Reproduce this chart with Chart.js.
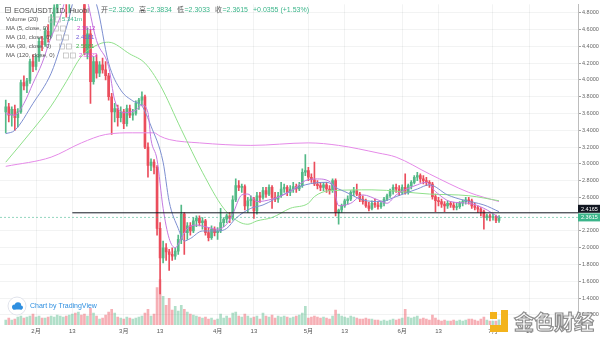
<!DOCTYPE html>
<html>
<head>
<meta charset="utf-8">
<script src="https://cdn.jsdelivr.net/npm/chart.js@4.4.1/dist/chart.umd.min.js"></script>
<style>
  html, body { margin: 0; padding: 0; background: #fff; }
  canvas { display: block; }
</style>
</head>
<body>
<canvas id="kline" width="600" height="338"></canvas>
<script>
// EOS/USDT daily, day 0 = Feb 1
var firstDay = -10;

var open = [
  3.62,3.68,3.58,3.65,3.55,3.62,3.97,3.93,3.99,4.22,
  4.16,4.27,4.46,4.42,4.58,4.52,4.72,4.86,5.00,5.10,
  5.25,5.10,5.35,5.50,5.30,5.40,4.95,4.32,4.55,3.98,
  4.22,4.08,4.18,4.12,4.05,3.80,3.62,3.66,3.55,3.62,
  3.48,3.66,3.58,3.60,3.72,3.76,3.80,3.20,2.98,3.02,
  2.96,2.23,1.88,2.00,1.95,1.92,1.90,1.96,2.10,2.40,
  2.18,2.26,2.20,2.32,2.35,2.30,2.32,2.18,2.12,2.22,
  2.18,2.20,2.30,2.34,2.38,2.35,2.57,2.74,2.72,2.73,
  2.50,2.56,2.58,2.44,2.62,2.60,2.68,2.64,2.72,2.60,
  2.58,2.62,2.70,2.72,2.66,2.70,2.73,2.70,2.74,2.90,
  2.92,2.84,2.81,2.76,2.74,2.72,2.75,2.70,2.68,2.80,
  2.42,2.45,2.50,2.56,2.58,2.66,2.68,2.64,2.58,2.55,
  2.50,2.47,2.53,2.51,2.49,2.53,2.58,2.62,2.67,2.72,
  2.70,2.66,2.72,2.66,2.74,2.78,2.84,2.86,2.82,2.80,
  2.78,2.76,2.61,2.56,2.55,2.52,2.50,2.53,2.51,2.48,
  2.49,2.53,2.55,2.57,2.56,2.50,2.48,2.46,2.43,2.36,
  2.38,2.36,2.37,2.326
];
var high = [
  3.76,3.72,3.68,3.70,3.66,4.00,4.05,4.02,4.25,4.30,
  4.30,4.50,4.52,4.62,4.66,4.78,4.90,5.10,5.15,5.30,
  5.35,5.40,5.60,5.55,5.50,5.45,5.05,4.62,4.60,4.28,
  4.30,4.22,4.26,4.22,4.08,3.84,3.72,3.70,3.68,3.65,
  3.70,3.70,3.65,3.75,3.78,3.86,3.82,3.25,3.06,3.05,
  2.98,2.30,2.08,2.05,1.98,2.00,2.00,2.15,2.51,2.42,
  2.30,2.30,2.36,2.38,2.38,2.36,2.34,2.24,2.26,2.25,
  2.24,2.47,2.36,2.40,2.42,2.62,2.82,2.80,2.76,2.75,
  2.60,2.62,2.60,2.66,2.66,2.72,2.72,2.75,2.74,2.66,
  2.66,2.78,2.76,2.74,2.74,2.78,2.76,2.78,2.94,3.11,
  2.96,2.88,3.02,2.80,2.78,2.78,2.78,2.74,2.82,2.82,
  2.46,2.52,2.58,2.62,2.68,2.72,2.76,2.66,2.62,2.58,
  2.54,2.56,2.58,2.55,2.56,2.60,2.64,2.70,2.75,2.76,
  2.74,2.75,2.88,2.76,2.80,2.86,2.90,2.88,2.86,2.84,
  2.80,2.78,2.64,2.60,2.58,2.55,2.56,2.55,2.54,2.53,
  2.55,2.57,2.60,2.60,2.58,2.53,2.50,2.48,2.45,2.40,
  2.40,2.40,2.39,2.3834
];
var low = [
  3.37,3.50,3.45,3.40,3.44,3.60,3.88,3.85,3.96,4.10,
  4.12,4.22,4.35,4.40,4.45,4.50,4.65,4.80,4.90,5.00,
  4.75,4.80,5.30,5.20,5.25,4.95,4.30,4.25,3.72,3.95,
  4.02,4.04,4.08,4.00,3.76,3.35,3.50,3.45,3.50,3.42,
  3.45,3.55,3.52,3.58,3.65,3.70,3.18,2.84,2.92,2.88,
  2.15,1.45,1.82,1.85,1.73,1.85,1.86,1.92,2.05,1.92,
  2.10,2.15,2.18,2.25,2.26,2.22,2.15,2.08,2.10,2.14,
  2.10,2.18,2.25,2.30,2.30,2.33,2.55,2.68,2.66,2.45,
  2.42,2.50,2.35,2.40,2.54,2.58,2.60,2.62,2.47,2.55,
  2.54,2.60,2.66,2.62,2.62,2.66,2.66,2.68,2.72,2.86,
  2.80,2.78,2.74,2.70,2.68,2.68,2.66,2.64,2.66,2.38,
  2.28,2.42,2.48,2.52,2.56,2.62,2.62,2.55,2.52,2.48,
  2.44,2.45,2.48,2.46,2.47,2.50,2.56,2.60,2.64,2.66,
  2.62,2.64,2.64,2.64,2.70,2.76,2.80,2.78,2.76,2.74,
  2.72,2.58,2.43,2.50,2.48,2.43,2.47,2.48,2.45,2.45,
  2.47,2.50,2.52,2.52,2.47,2.45,2.42,2.38,2.22,2.33,
  2.32,2.33,2.30,2.3033
];
var close = [
  3.68,3.58,3.65,3.55,3.62,3.97,3.93,3.99,4.22,4.16,
  4.27,4.46,4.42,4.58,4.52,4.72,4.86,5.00,5.10,5.25,
  5.10,5.35,5.50,5.30,5.40,5.00,4.32,4.55,3.98,4.22,
  4.08,4.18,4.12,4.05,3.80,3.62,3.66,3.55,3.62,3.48,
  3.66,3.58,3.60,3.72,3.76,3.80,3.20,2.98,3.02,2.96,
  2.23,1.88,2.00,1.95,1.92,1.90,1.96,2.10,2.40,2.18,
  2.26,2.20,2.32,2.35,2.30,2.32,2.18,2.12,2.22,2.18,
  2.20,2.30,2.34,2.38,2.35,2.57,2.74,2.72,2.73,2.50,
  2.56,2.58,2.44,2.62,2.60,2.68,2.64,2.72,2.60,2.58,
  2.62,2.70,2.72,2.66,2.70,2.73,2.70,2.74,2.90,2.92,
  2.84,2.81,2.76,2.74,2.72,2.75,2.70,2.68,2.80,2.42,
  2.45,2.50,2.56,2.58,2.66,2.68,2.64,2.58,2.55,2.50,
  2.47,2.53,2.51,2.49,2.53,2.58,2.62,2.67,2.72,2.70,
  2.66,2.72,2.66,2.74,2.78,2.84,2.86,2.82,2.80,2.78,
  2.76,2.61,2.56,2.55,2.52,2.50,2.53,2.51,2.48,2.49,
  2.53,2.55,2.57,2.56,2.50,2.48,2.46,2.43,2.36,2.38,
  2.36,2.37,2.326,2.3615
];
// volume in millions
var volume = [
  5,7,5,6,8,9,7,8,9,11,
  8,9,7,7,8,9,8,10,9,8,
  9,10,11,12,13,10,11,9,17,12,
  9,6,7,10,13,16,12,8,7,6,
  8,7,6,7,8,9,12,16,9,11,
  38,46,29,20,27,15,19,14,20,16,
  13,11,10,9,8,7,8,6,7,5,
  6,11,7,9,7,12,13,9,8,11,
  9,7,8,9,6,12,9,8,10,7,
  9,8,9,8,7,8,9,10,12,19,
  7,8,9,8,7,8,7,6,9,15,
  11,9,8,7,9,8,7,6,6,7,
  6,6,5,5,4,5,4,5,6,5,
  6,7,16,8,7,8,9,6,7,6,
  5,10,7,5,4,5,4,4,5,4,
  5,4,5,6,6,5,4,6,8,5,
  4,4,4,5.341
];

// moving averages: [day, value]
var ma5 = [[-10,3.60],[-7,3.58],[-4,3.72],[-1,3.96],[2,4.20],[5,4.51],[8,4.75],[10,5.0],[12,5.2],
  [15,5.3],[17,4.95],[20,4.47],[24,4.16],[26,3.76],[29,3.61],[33,3.64],[35,3.70],[37,3.61],[38,3.29],
  [40,3.05],[42,2.47],[44,2.11],[46,2.0],[48,2.11],[50,2.23],[53,2.27],[56,2.25],[60,2.22],[63,2.28],
  [65,2.40],[68,2.63],[70,2.64],[73,2.55],[78,2.58],[84,2.67],[89,2.80],[93,2.82],[98,2.76],[100,2.50],
  [104,2.53],[108,2.63],[113,2.57],[116,2.53],[119,2.63],[126,2.75],[129,2.78],[132,2.67],[137,2.55],
  [143,2.53],[148,2.47],[153,2.36]];
var ma10 = [[-10,3.36],[-7,3.40],[-1,3.72],[5,4.08],[8,4.39],[11,4.75],[12,4.9],[16,5.1],[20,4.9],
  [24,4.2],[28,3.88],[32,3.75],[35,3.69],[38,3.45],[42,3.02],[44,2.55],[47,2.23],[49,2.08],[51,2.11],
  [55,2.20],[60,2.20],[63,2.23],[66,2.35],[71,2.47],[75,2.51],[82,2.64],[89,2.75],[96,2.78],[100,2.70],
  [102,2.67],[108,2.57],[114,2.55],[119,2.61],[126,2.70],[130,2.75],[136,2.63],[141,2.57],[148,2.51],
  [153,2.43]];
var ma30 = [[-10,3.02],[-1,3.41],[5,3.69],[10,3.98],[15,4.28],[21,4.43],[24,4.45],[31,4.31],[36,4.2],
  [41,3.94],[48,3.41],[55,2.90],[62,2.47],[67,2.31],[70,2.28],[73,2.32],[78,2.36],[84,2.47],[90,2.53],
  [92,2.61],[97,2.68],[111,2.69],[130,2.64],[143,2.62],[153,2.56]];
var ma120 = [[-10,2.97],[5,3.08],[15,3.25],[23,3.35],[32,3.37],[39,3.37],[41,3.33],[44,3.29],[54,3.25],
  [71,3.22],[90,3.25],[100,3.22],[113,3.13],[119,3.08],[130,2.88],[143,2.66],[153,2.55]];

var lineLevel = 2.4165, lineFrom = 12;
var lastPrice = 2.3615;

var xTicks = [0, 12, 29, 41, 60, 72, 90, 102, 121, 133, 151, 163];
var xTickLabels = ['2月', '13', '3月', '13', '4月', '13', '5月', '13', '6月', '13', '7月', '13'];
var yTicks = [1.2, 1.4, 1.6, 1.8, 2.0, 2.2, 2.6, 2.8, 3.0, 3.2, 3.4, 3.6, 3.8, 4.0, 4.2, 4.4, 4.6, 4.8];

var UP = '#53b987', DOWN = '#eb4d5c';
var F = '"Liberation Sans", Arial, "Noto Sans CJK SC", sans-serif';

var days = close.map(function (v, i) { return firstDay + i; });
function candleColor(ctx) { var i = ctx.dataIndex; return close[i] >= open[i] ? UP : DOWN; }
function volColor(ctx) { var i = ctx.dataIndex; return close[i] >= open[i] ? 'rgba(83,185,135,0.45)' : 'rgba(235,77,92,0.45)'; }
function pts(arr) { return arr.map(function (p) { return { x: p[0], y: p[1] }; }); }
function maLine(arr, color) {
  return { type: 'line', data: pts(arr), borderColor: color, borderWidth: 1, pointRadius: 0,
           tension: 0.4, cubicInterpolationMode: 'monotone', yAxisID: 'y', order: 1 };
}

var overlay = {
  id: 'overlay',
  afterDraw: function (chart) {
    var c = chart.ctx, ys = chart.scales.y;
    c.save();
    c.textBaseline = 'middle';

    // price tags on the right axis
    c.font = '5.5px ' + F;
    var py = ys.getPixelForValue(lineLevel) - 4;
    c.fillStyle = '#131722'; c.fillRect(578, py - 4, 22, 8);
    c.fillStyle = '#fff'; c.fillText(lineLevel.toFixed(4), 581, py + 0.5);
    py = ys.getPixelForValue(lastPrice);
    c.fillStyle = '#3bb58a'; c.fillRect(578, py - 4, 22, 8);
    c.fillStyle = '#fff'; c.fillText(lastPrice.toFixed(4), 581, py + 0.5);

    // header
    c.strokeStyle = '#777'; c.lineWidth = 0.8;
    c.strokeRect(5.5, 7.5, 5, 5);
    c.beginPath(); c.moveTo(6.5, 10); c.lineTo(9.5, 10); c.stroke();
    c.font = '7.5px ' + F;
    c.fillStyle = '#4a4a4a';
    c.fillText('EOS/USDT, 1D, Huobi', 14, 10.5);
    var green = '#3bb58a';
    var groups = [['开', '=2.3260'], ['高', '=2.3834'], ['低', '=2.3033'], ['收', '=2.3615']];
    var hx = 101;
    c.font = '7px ' + F;
    groups.forEach(function (g) {
      c.fillStyle = '#555'; c.fillText(g[0], hx, 10.5); hx += c.measureText(g[0]).width + 0.5;
      c.fillStyle = green; c.fillText(g[1], hx, 10.5); hx += c.measureText(g[1]).width + 5;
    });
    c.fillStyle = green; c.fillText('+0.0355 (+1.53%)', hx, 10.5);

    // study legend
    var rows = [
      ['Volume (20)', 48, '5.341m', 62, '#3bb58a'],
      ['MA (5, close, 0)', 53, '2.3612', 77, '#c03fd0'],
      ['MA (10, close, 0)', 56, '2.4181', 76, '#6f5bd8'],
      ['MA (30, close, 0)', 59, '2.5681', 76, '#3cb44b'],
      ['MA (120, close, 0)', 63, '2.5523', 79, '#d84fd8']
    ];
    c.font = '6px ' + F;
    rows.forEach(function (r, k) {
      var ry = 19.5 + k * 9;
      c.fillStyle = '#555'; c.fillText(r[0], 6, ry);
      c.strokeStyle = '#b8b8b8'; c.lineWidth = 0.7;
      c.strokeRect(r[1] + 0.5, ry - 2.5, 5, 5);
      c.strokeRect(r[1] + 7.5, ry - 2.5, 5, 5);
      c.fillStyle = r[4]; c.fillText(r[2], r[3], ry);
    });

    // TradingView badge
    c.beginPath(); c.arc(17, 306, 9, 0, Math.PI * 2);
    c.fillStyle = '#fff'; c.fill(); c.strokeStyle = '#e0e3eb'; c.lineWidth = 1; c.stroke();
    c.fillStyle = '#2f8fe0';
    c.beginPath(); c.arc(14.5, 307, 2.5, 0, Math.PI * 2); c.arc(18, 305.5, 3.2, 0, Math.PI * 2);
    c.arc(21, 307.5, 2, 0, Math.PI * 2); c.fill();
    c.fillRect(13, 307, 9, 2.5);
    c.font = '7px ' + F; c.fillStyle = '#2f8fe0';
    c.fillText('Chart by TradingView', 30, 306.5);

    // watermark
    c.fillStyle = '#f3b31c';
    c.fillRect(490, 312, 7, 7);
    c.beginPath();
    c.moveTo(501, 310); c.lineTo(508, 310); c.lineTo(508, 332); c.lineTo(490, 332);
    c.lineTo(490, 325); c.lineTo(501, 325); c.closePath(); c.fill();
    c.font = 'bold 20px "Noto Sans CJK SC", sans-serif';
    c.lineWidth = 1.2; c.strokeStyle = '#8e8e8e';
    c.fillStyle = 'rgba(255,255,255,0.9)';
    c.fillText('金色财经', 514, 322);
    c.strokeText('金色财经', 514, 322);
    c.restore();
  }
};

new Chart(document.getElementById('kline').getContext('2d'), {
  type: 'bar',
  data: {
    datasets: [
      { type: 'line', data: [{ x: lineFrom, y: lineLevel }, { x: 179.1, y: lineLevel }],
        borderColor: '#131722', borderWidth: 1, pointRadius: 0, yAxisID: 'y', order: 0 },
      { type: 'line', data: [{ x: -11.9, y: lastPrice }, { x: 179.1, y: lastPrice }],
        borderColor: 'rgba(59,181,138,0.55)', borderWidth: 1, borderDash: [2, 2], pointRadius: 0,
        yAxisID: 'y', order: 0 },
      maLine(ma5, '#c47ae0'),
      maLine(ma10, '#7d8fd0'),
      maLine(ma30, '#8fe08a'),
      maLine(ma120, '#e58ae8'),
      { label: 'body', grouped: false, barThickness: 2, minBarLength: 1, yAxisID: 'y', order: 3,
        data: days.map(function (d, i) { return { x: d, y: [Math.min(open[i], close[i]), Math.max(open[i], close[i])] }; }),
        backgroundColor: candleColor },
      { label: 'wick', grouped: false, barThickness: 1, yAxisID: 'y', order: 4,
        data: days.map(function (d, i) { return { x: d, y: [low[i], high[i]] }; }),
        backgroundColor: candleColor },
      { label: 'volume', grouped: false, barThickness: 2, yAxisID: 'yv', order: 6,
        data: days.map(function (d, i) { return { x: d, y: volume[i] }; }),
        backgroundColor: volColor }
    ]
  },
  options: {
    responsive: false,
    devicePixelRatio: 1,
    animation: false,
    layout: { padding: 0 },
    plugins: { legend: { display: false }, tooltip: { enabled: false } },
    scales: {
      x: {
        type: 'linear', min: -11.9, max: 179.1, offset: false, position: 'bottom',
        afterBuildTicks: function (s) { s.ticks = xTicks.map(function (v) { return { value: v }; }); },
        afterFit: function (s) { s.height = 13; },
        ticks: { autoSkip: false, maxRotation: 0, padding: 3, color: '#555',
                 font: { size: 6, family: F },
                 callback: function (v, i) { return xTickLabels[i]; } },
        grid: { color: 'rgba(42,46,57,0.06)', drawTicks: false, offset: false },
        border: { display: false }
      },
      y: {
        type: 'linear', position: 'right', min: 1.079, max: 4.902,
        afterBuildTicks: function (s) { s.ticks = yTicks.map(function (v) { return { value: v }; }); },
        afterFit: function (s) { s.width = 22; },
        ticks: { color: '#666', padding: 1, font: { size: 5.5, family: F },
                 callback: function (v) { return v.toFixed(4); } },
        grid: { color: 'rgba(42,46,57,0.06)', drawTicks: true, tickLength: 3, tickColor: '#a0a0a0' },
        border: { display: true, color: '#bdbdbd' }
      },
      yv: { type: 'linear', display: false, min: 0, max: 325 }
    }
  },
  plugins: [overlay]
});
</script>
</body>
</html>
